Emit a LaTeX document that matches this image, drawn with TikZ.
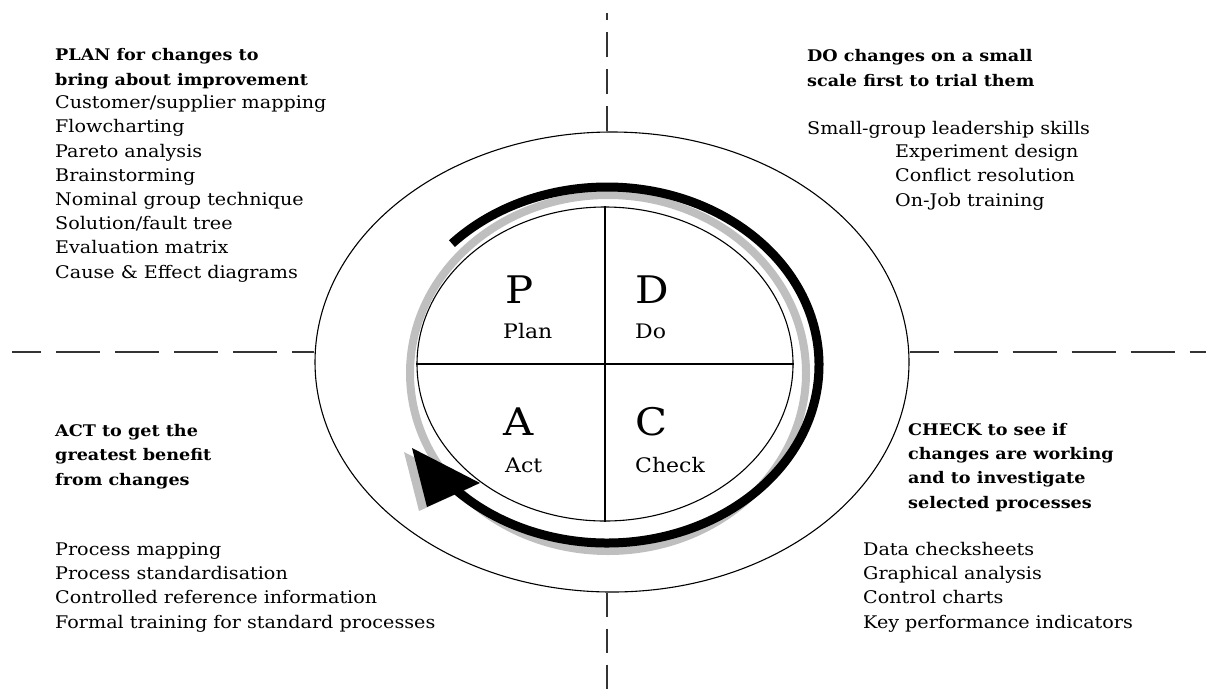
\documentclass[tikz,border=0pt]{standalone}
\usepackage{fontspec}
\setmainfont{DejaVu Serif}[FakeStretch=1.1]
\usetikzlibrary{positioning,shapes.geometric}

\begin{document}
\begin{tikzpicture}[x=1pt,y=1pt,
        guide/.style={line width=1.4pt,black!80},
        ring/.style={draw,ellipse,line width=1.1pt,inner sep=0pt},
        cycle arrow/.style={line width=9pt},
        cycle shadow/.style={line width=8pt,black!25},
        heading/.style={font=\bfseries\fontsize{16}{24.2}\selectfont,align=left,inner sep=0pt,anchor=base west},
        items/.style={font=\fontsize{17.4}{24.2}\selectfont,align=left,inner sep=0pt,anchor=base west},
        letter/.style={font=\fontsize{38}{40}\selectfont,inner sep=0pt,anchor=base west},
        word/.style={font=\fontsize{20}{22}\selectfont,inner sep=0pt,anchor=base west}]
    \useasboundingbox (0,0) rectangle (1206,-697);
    % outer ring with the quadrant guides
    \node[ring,minimum width=594pt,minimum height=460pt] (rim) at (612,-362) {};
    \coordinate (north end) at (607,-13);
    \coordinate (south end) at (607,-697);
    \coordinate (west end) at (12,-352);
    \coordinate (east end) at (1206,-352);
    \draw[guide,dash pattern=on 25pt off 12pt] (rim.north -| north end) -- (north end);
    \draw[guide,dash pattern=on 24pt off 12pt] (rim.south -| south end) -- (south end);
    \draw[guide,dash pattern=on 44pt off 15pt,dash phase=15pt] (west end) -- (west end -| rim.west);
    \draw[guide,dash pattern=on 44pt off 15pt,dash phase=15pt] (east end -| rim.east) -- (east end);
    % shadow of the cycle
    \draw[cycle shadow] (608,-373) ellipse [x radius=198,y radius=178];
    \fill[black!25] (404,-452) -- (472,-487) -- (419,-511) -- cycle;
    % inner wheel
    \node[ring,minimum width=376pt,minimum height=314pt] (wheel) at (605,-364) {};
    \draw[line width=1.1pt] (wheel.north) -- (wheel.south);
    \draw[line width=1.1pt] (wheel.west) -- (wheel.east);
    % cycle arrow
    \coordinate (hub) at (607,-365);
    \draw[cycle arrow] (hub) ++(137:212 and 178) arc[start angle=137,end angle=-135,x radius=212,y radius=178];
    \fill (412,-448) -- (480,-483) -- (427,-507) -- cycle;
    % quadrant letters
    \node[letter] (p) at (505,-303) {P};
    \node[word] (plan) at (503,-338) {Plan};
    \node[letter] (d) at (635,-303) {D};
    \node[word] (do) at (635,-338) {Do};
    \node[letter] (a) at (503,-435) {A};
    \node[word] (act) at (505,-472) {Act};
    \node[letter] (c) at (635,-435) {C};
    \node[word] (check) at (635,-472) {Check};
    % text blocks (base anchor sits on the last line)
    \node[heading] (plan head) at (55,-85) {PLAN for changes to\\bring about improvement};
    \node[items] (plan list) at (55,-278) {Customer/supplier mapping\\Flowcharting\\Pareto analysis\\Brainstorming\\Nominal group technique\\Solution/fault tree\\Evaluation matrix\\Cause \& Effect diagrams};
    \node[heading] (do head) at (807,-86) {DO changes on a small\\scale first to trial them};
    \node[items] (do lead) at (807,-134) {Small-group leadership skills};
    \node[items] (do list) at (895,-206) {Experiment design\\Conflict resolution\\On-Job training};
    \node[heading] (act head) at (55,-485) {ACT to get the\\greatest benefit\\from changes};
    \node[items] (act list) at (55,-628) {Process mapping\\Process standardisation\\Controlled reference information\\Formal training for standard processes};
    \node[heading] (check head) at (908,-508) {CHECK to see if\\changes are working\\and to investigate\\selected processes};
    \node[items] (check list) at (863,-628) {Data checksheets\\Graphical analysis\\Control charts\\Key performance indicators};
\end{tikzpicture}
\end{document}
